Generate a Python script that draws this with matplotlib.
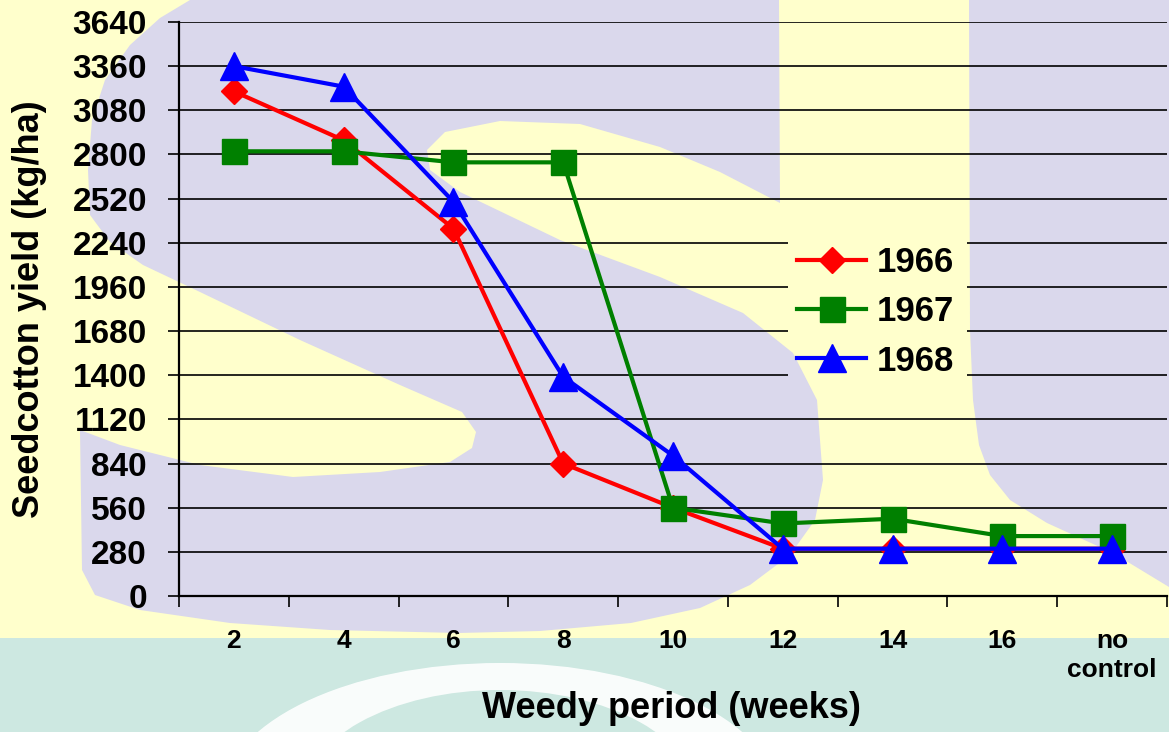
import matplotlib
matplotlib.use("Agg")
import matplotlib.pyplot as plt
from matplotlib.patches import Polygon, Rectangle, Ellipse
from matplotlib.path import Path
from matplotlib.transforms import IdentityTransform
from matplotlib.ticker import FixedLocator, NullFormatter, FixedFormatter

# ---- data ----
categories = ['2', '4', '6', '8', '10', '12', '14', '16', 'no\ncontrol']
yield_1966 = [3200, 2890, 2330, 840, 560, 300, 300, 300, 300]
yield_1967 = [2820, 2820, 2750, 2750, 560, 460, 490, 380, 380]
yield_1968 = [3360, 3230, 2500, 1390, 890, 300, 300, 300, 300]
y_ticks = list(range(0, 3641, 280))

plt.rcParams['font.family'] = ['Liberation Sans', 'DejaVu Sans']
plt.rcParams['font.weight'] = 'bold'

W, H = 1169, 732
fig = plt.figure(figsize=(W / 100, H / 100), dpi=100)
YELLOW = '#FFFFCC'
LAV = '#DAD8EC'
TEAL = '#CDE8E1'
fig.patch.set_facecolor(YELLOW)

# ---- decorative background (watermark letters) ----
bg = fig.add_axes([0, 0, 1, 1], zorder=-5)
bg.set_xlim(0, W)
bg.set_ylim(H, 0)
bg.axis('off')
s_shape = [
    (190, 0), (779, 0), (780, 203),
    (720, 172), (660, 147), (580, 124), (500, 121), (445, 132), (427, 150),
    (430, 170), (460, 192), (560, 240), (660, 277), (743, 313), (793, 353),
    (817, 400), (823, 480), (815, 520), (790, 555), (750, 585), (700, 608),
    (631, 623), (540, 631), (459, 633), (330, 630), (230, 623), (140, 610),
    (95, 595), (82, 570), (80, 430),
    (120, 445), (200, 465), (293, 477), (380, 472), (450, 462), (472, 448),
    (476, 432), (462, 412), (400, 385), (300, 340), (200, 292), (143, 265),
    (110, 242), (90, 215),
    (88, 170), (92, 120), (105, 80), (130, 45), (160, 18)]
bg.add_patch(Polygon(s_shape, closed=True, facecolor=LAV, edgecolor='none'))
u_shape = [(969, 0), (W, 0), (W, 587), (1113, 553), (1047, 523), (1010, 500),
           (990, 475), (979, 445), (973, 400), (970, 330)]
bg.add_patch(Polygon(u_shape, closed=True, facecolor=LAV, edgecolor='none'))
bg.add_patch(Rectangle((0, 638), W, H - 638, facecolor=TEAL, edgecolor='none'))
bg.add_patch(Ellipse((500, 800), 2 * 279, 2 * 137, facecolor='white',
                     edgecolor='none', alpha=0.9))
bg.add_patch(Ellipse((500, 800), 2 * 198, 2 * 110, facecolor=TEAL,
                     edgecolor='none'))

# ---- main chart ----
ax = fig.add_axes([179 / W, 1 - 596 / H, (1167 - 179) / W, (596 - 22) / H])
ax.set_facecolor('none')

xpos = [i + 0.5 for i in range(len(categories))]
ax.plot(xpos, yield_1966, color='#FF0000', lw=3, marker='D', ms=13.5,
        label='1966', zorder=3)
ax.plot(xpos, yield_1967, color='#008000', lw=3, marker='s', ms=18,
        label='1967', zorder=4)
ax.plot(xpos, yield_1968, color='#0000FF', lw=3, marker='^', ms=19.5,
        label='1968', zorder=5)

ax.set_xlim(0, len(categories))
ax.set_ylim(0, 3640)
ax.set_yticks(y_ticks)
ax.set_yticklabels([str(v) for v in y_ticks])
ax.yaxis.grid(True, color='black', lw=1.2)
ax.set_axisbelow(True)

ax.xaxis.set_major_locator(FixedLocator(list(range(len(categories) + 1))))
ax.xaxis.set_major_formatter(NullFormatter())
ax.xaxis.set_minor_locator(FixedLocator(xpos))
ax.xaxis.set_minor_formatter(FixedFormatter(categories))
ax.tick_params(axis='x', which='major', direction='out', length=8, width=1.2, color='black')
ax.tick_params(axis='x', which='minor', length=0, pad=24, labelsize=19)
ax.tick_params(axis='y', which='major', direction='out', length=8, width=1.2,
               pad=15, labelsize=24)
for lbl in ax.get_xticklabels(minor=True):
    lbl.set_fontweight('bold')
    lbl.set_linespacing(1.25)
    lbl.set_verticalalignment('top')
for lbl in ax.get_yticklabels():
    lbl.set_fontweight('bold')

for side in ['top', 'right']:
    ax.spines[side].set_visible(False)
ax.spines['left'].set_linewidth(1.6)
ax.spines['bottom'].set_linewidth(1.6)

fig.text(671 / W, 1 - 708 / H, 'Weedy period (weeks)', ha='center', va='center',
         fontsize=26, fontweight='bold')
fig.text(30 / W, 1 - 309 / H, 'Seedcotton yield (kg/ha)', ha='center', va='center',
         rotation=90, fontsize=26, fontweight='bold')

leg = ax.legend(loc='upper left', bbox_to_anchor=(783 / W, 1 - 232 / H),
                bbox_transform=fig.transFigure, frameon=False,
                prop={'size': 25, 'weight': 'bold'}, handlelength=2.0,
                handletextpad=0.3, labelspacing=0.47, borderpad=0.4,
                borderaxespad=0)

# gridlines are interrupted behind the legend (legend box is see-through)
hx0, hx1, hy0, hy1 = 788, 967, H - 392, H - 228
clip = Path([(0, 0), (W, 0), (W, H), (0, H), (0, 0),
             (hx0, hy0), (hx0, hy1), (hx1, hy1), (hx1, hy0), (hx0, hy0)],
            [Path.MOVETO, Path.LINETO, Path.LINETO, Path.LINETO, Path.CLOSEPOLY,
             Path.MOVETO, Path.LINETO, Path.LINETO, Path.LINETO, Path.CLOSEPOLY])
for gl in ax.get_ygridlines():
    gl.set_clip_path(clip, IdentityTransform())

fig.savefig('out.png', dpi=100, facecolor=fig.get_facecolor())
